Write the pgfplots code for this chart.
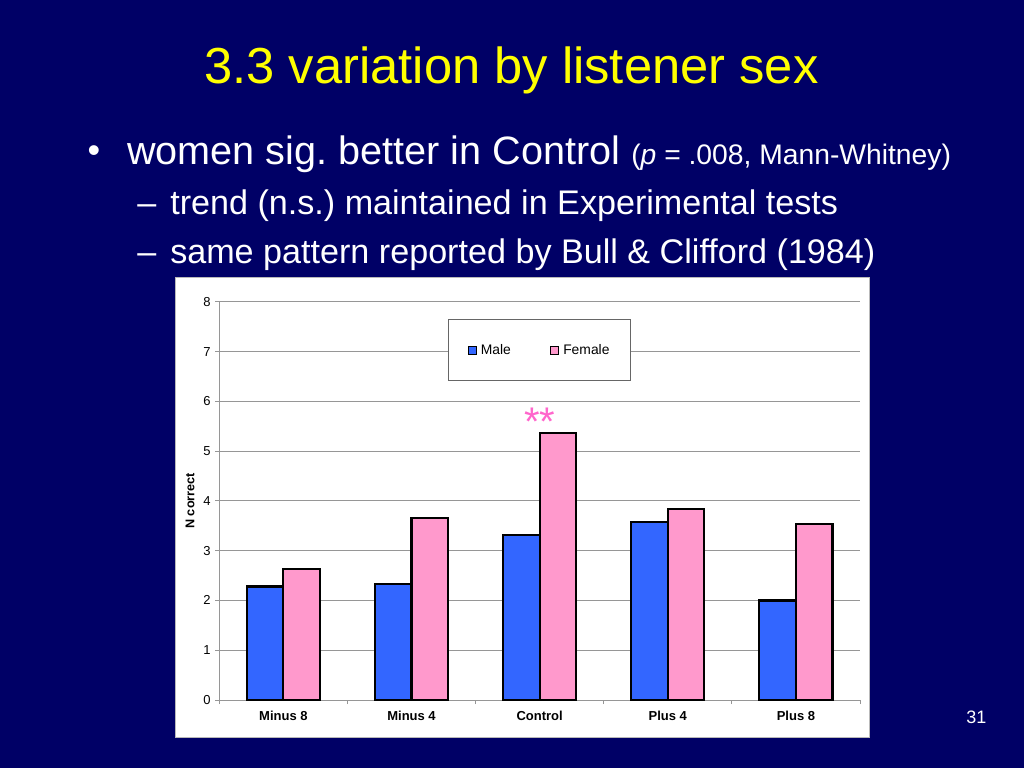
\documentclass[border=0pt]{standalone}
\usepackage{fontspec}
\setmainfont{Liberation Sans}
\usepackage{pgfplots}
\pgfplotsset{compat=1.18}
\frenchspacing

\definecolor{slidebg}{HTML}{000066}
\definecolor{ttl}{HTML}{FFFF00}
\definecolor{malebar}{HTML}{3366FF}
\definecolor{femalebar}{HTML}{FF99CC}
\definecolor{starpink}{HTML}{FF66CC}
\definecolor{gridgray}{HTML}{969696}

\newcommand{\fs}[1]{\fontsize{#1}{1.15\dimexpr#1pt\relax}\selectfont}

% square legend swatch instead of the two little bars
\pgfplotsset{
  /pgfplots/ybar legend/.style={
    /pgfplots/legend image code/.code={\draw[##1, line width=0.75pt] (0pt,-3pt) rectangle (6pt,3pt);}},
}

\begin{document}
\begin{tikzpicture}
% slide, 1px = 0.75pt, y runs downwards
\begin{scope}[x=0.75pt,y=-0.75pt]
  \fill[slidebg] (0,0) rectangle (1024,768);
  \node[anchor=base, text=ttl, font=\fs{38}, inner sep=0pt] at (511.5,83) {3.3 variation by listener sex};
  \node[text=white, font=\fs{27}, inner sep=0pt] at (94,154) {•};
  \node[anchor=base west, text=white, font=\fs{29.7}, inner sep=0pt] at (127,164)
    {women sig. better in Control {\fs{21.2}(\textit{p} = .008, Mann-Whitney)}};
  \node[anchor=base west, text=white, font=\fs{25.6}, inner sep=0pt] at (137,214) {–};
  \node[anchor=base west, text=white, font=\fs{25.6}, inner sep=0pt] at (170,214)
    {trend (n.s.) maintained in Experimental tests};
  \node[anchor=base west, text=white, font=\fs{25.6}, inner sep=0pt] at (137,263) {–};
  \node[anchor=base west, text=white, font=\fs{25.6}, inner sep=0pt] at (170,263)
    {same pattern reported by Bull \& Clifford (1984)};
  \node[anchor=base west, text=white, font=\fs{13.5}, inner sep=0pt] at (966,723) {31};
  \filldraw[fill=white, draw=gray!55, line width=0.75pt] (175,277) rectangle (869,737);
\end{scope}

\begin{axis}[
    at={(164.5pt,-525pt)}, anchor=south west,
    scale only axis,
    width=480.5pt, height=298.7pt,
    xmin=-0.5, xmax=4.5, ymin=0, ymax=8,
    ybar=0pt, bar width=27.4pt,
    legend image code/.code={\draw[#1, line width=0.75pt] (0pt,-3pt) rectangle (6pt,3pt);},
    axis x line=bottom, axis y line=left,
    axis line style={-, draw=gridgray, line width=0.75pt},
    tick align=outside, major tick length=3pt,
    tick style={draw=gridgray, line width=0.75pt},
    ytick={0,1,2,3,4,5,6,7,8},
    ymajorgrids, grid style={draw=gridgray, line width=0.75pt},
    xtick={-0.5,0.5,1.5,2.5,3.5,4.5}, xticklabels={},
    extra x ticks={0,1,2,3,4},
    extra x tick labels={Minus 8,Minus 4,Control,Plus 4,Plus 8},
    extra x tick style={major tick length=0pt},
    xticklabel style={font=\fs{9.75}\bfseries, yshift=-5pt},
    yticklabel style={font=\fs{9.75}},
    /pgf/number format/assume math mode=true,
    ylabel={N correct},
    every axis y label/.style={at={(axis description cs:-0.0457,0.5)}, rotate=90, anchor=center, font=\fs{9.5}\bfseries},
    legend columns=2,
    legend style={at={(axis description cs:0.357,0.9566)}, anchor=north west,
      draw=gray!80!black, line width=0.75pt, fill=white,
      inner xsep=14.5pt, inner ysep=17pt, font=\fs{10.4},
      nodes={inner sep=1.5pt},
      /tikz/every odd column/.append style={column sep=1.5pt},
      /tikz/every even column/.append style={column sep=28pt}},
]
\addplot[fill=malebar, draw=black, line width=1.6pt] coordinates {(0,2.28) (1,2.33) (2,3.31) (3,3.57) (4,2.00)};
\addlegendentry{Male}
\addplot[fill=femalebar, draw=black, line width=1.6pt] coordinates {(0,2.64) (1,3.66) (2,5.37) (3,3.83) (4,3.53)};
\addlegendentry{Female}
\node[anchor=base, text=starpink, font=\fs{30}, inner sep=0pt] at (axis cs:2,5.32) {**};
\end{axis}
\pgfresetboundingbox
\useasboundingbox (0pt,0pt) rectangle (768pt,-576pt);
\end{tikzpicture}
\end{document}
